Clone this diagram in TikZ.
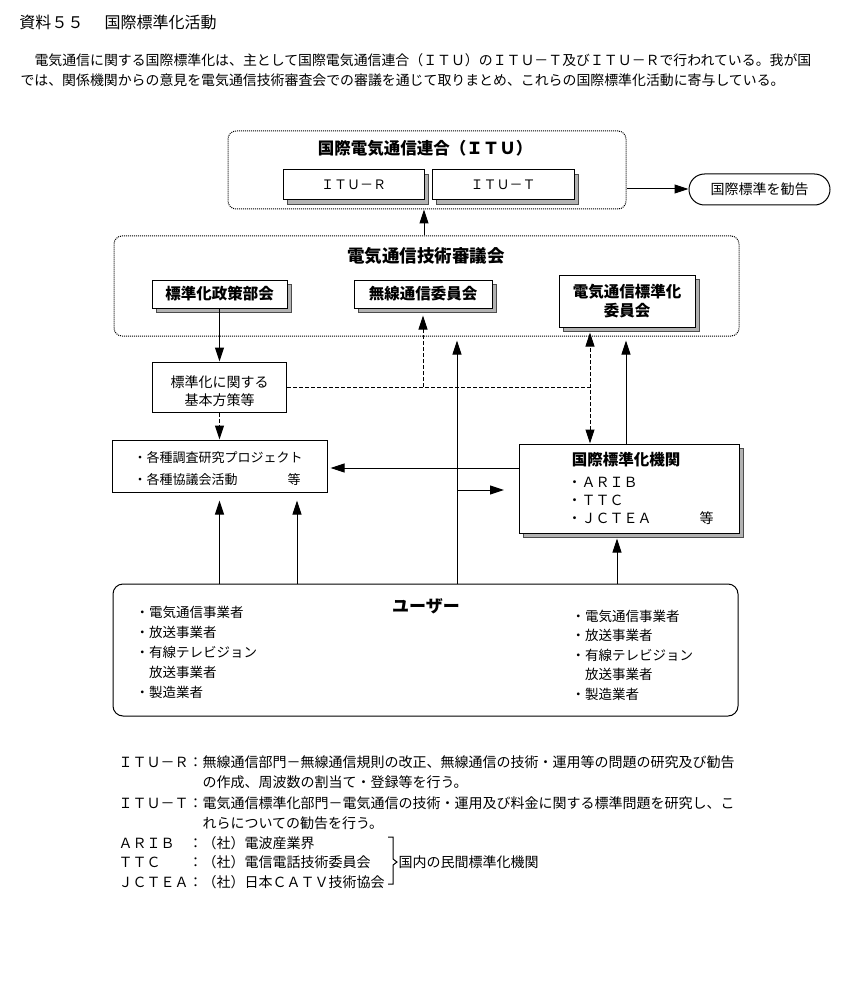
\documentclass[tikz,border=0pt]{standalone}
\usepackage{fontspec}
\setmainfont{Noto Sans CJK JP}
\usetikzlibrary{arrows.meta,shadows}
\newcommand\myfs[1]{\fontsize{#1}{#1}\selectfont}
\begin{document}
\begin{tikzpicture}[x=1pt,y=-1pt, line width=1pt,
 box/.style={draw, fill=white, inner sep=0pt, line width=1pt},
 shbox/.style={box, drop shadow={shadow xshift=4pt, shadow yshift=-4pt, fill=black!30, draw=black!70, line width=0.6pt, opacity=1}},
 cont/.style={draw, densely dotted, rounded corners=8pt, inner sep=0pt},
 txt/.style={inner sep=0pt, anchor=west},
 ctxt/.style={inner sep=0pt},
 arr/.style={-{Triangle[length=14pt,width=9pt]}},
 arrb/.style={{Triangle[length=14pt,width=9pt]}-{Triangle[length=14pt,width=9pt]}},
 dsh/.style={dash pattern=on 4pt off 2pt}]
\path[use as bounding box, fill=white] (0,0) rectangle (850,1000);

% header
\node[txt, font=\myfs{16}] (t1) at (19,22) {資料５５};
\node[txt, font=\myfs{16}] (t2) at (104,22) {国際標準化活動};
\node[txt, font=\myfs{13.9}] (p1) at (34,60) {電気通信に関する国際標準化は、主として国際電気通信連合（ＩＴＵ）のＩＴＵ－Ｔ及びＩＴＵ－Ｒで行われている。我が国};
\node[txt, font=\myfs{13.9}] (p2) at (20,80) {では、関係機関からの意見を電気通信技術審査会での審議を通じて取りまとめ、これらの国際標準化活動に寄与している。};

% ITU
\node[cont, minimum width=398pt, minimum height=78pt] (itu) at (427,170) {};
\node[ctxt, font=\bfseries\myfs{16.5}] (itut) at (425,148) {国際電気通信連合（ＩＴＵ）};
\node[shbox, minimum width=141pt, minimum height=30pt, font=\myfs{13}] (itur) at (353.5,185) {ＩＴＵ－Ｒ};
\node[shbox, minimum width=142pt, minimum height=30pt, font=\myfs{13}] (itutt) at (503,185) {ＩＴＵ－Ｔ};
\node[box, rounded corners=15.5pt, minimum width=141pt, minimum height=31pt, font=\myfs{14}] (rec) at (759.5,189.5) {国際標準を勧告};

% council
\node[cont, minimum width=625pt, minimum height=100pt] (council) at (426.5,286) {};
\node[ctxt, font=\bfseries\myfs{17.5}] (councilt) at (426,256) {電気通信技術審議会};
\node[shbox, minimum width=135pt, minimum height=28pt, font=\bfseries\myfs{15.5}] (seisaku) at (219.5,294) {標準化政策部会};
\node[shbox, minimum width=138pt, minimum height=28pt, font=\bfseries\myfs{15.5}] (musen) at (423,294) {無線通信委員会};
\node[shbox, minimum width=136pt, minimum height=52pt, align=center, font=\bfseries\fontsize{15.5}{19}\selectfont] (denki) at (627,301) {電気通信標準化\\委員会};

% middle
\node[box, minimum width=134pt, minimum height=50pt] (kihon) at (219.5,387) {};
\node[ctxt, align=center, font=\fontsize{14}{18}\selectfont] (kihont) at (219.5,391) {標準化に関する\\基本方策等};

\node[box, minimum width=215pt, minimum height=52pt] (kakushu) at (219.5,466) {};
\node[txt, font=\myfs{13}] (k1) at (133,458) {・各種調査研究プロジェクト};
\node[txt, font=\myfs{13}] (k2) at (133,480) {・各種協議会活動};
\node[txt, font=\myfs{13}] (k3) at (287,480) {等};

\node[shbox, minimum width=220pt, minimum height=89pt] (kokusai) at (629,488.5) {};
\node[ctxt, font=\bfseries\myfs{15.5}] (kt) at (626,460) {国際標準化機関};
\node[txt, font=\myfs{14}] (ka) at (567,482) {・ＡＲＩＢ};
\node[txt, font=\myfs{14}] (kb) at (567,500) {・ＴＴＣ};
\node[txt, font=\myfs{14}] (kc) at (567,518) {・ＪＣＴＥＡ};
\node[txt, font=\myfs{14}] (kd) at (699,518) {等};

% users
\node[draw, rounded corners=10pt, minimum width=625pt, minimum height=132pt, inner sep=0pt] (user) at (425.5,650) {};
\node[ctxt, font=\bfseries\myfs{17}] (ut) at (426,606) {ユーザー};
\node[txt, font=\myfs{13.5}] (ul1) at (135,612) {・電気通信事業者};
\node[txt, font=\myfs{13.5}] (ul2) at (135,632) {・放送事業者};
\node[txt, font=\myfs{13.5}] (ul3) at (135,652) {・有線テレビジョン};
\node[txt, font=\myfs{13.5}] (ul4) at (135,672) {　放送事業者};
\node[txt, font=\myfs{13.5}] (ul5) at (135,692) {・製造業者};
\node[txt, font=\myfs{13.5}] (ur1) at (571,616) {・電気通信事業者};
\node[txt, font=\myfs{13.5}] (ur2) at (571,635) {・放送事業者};
\node[txt, font=\myfs{13.5}] (ur3) at (571,655) {・有線テレビジョン};
\node[txt, font=\myfs{13.5}] (ur4) at (571,674) {　放送事業者};
\node[txt, font=\myfs{13.5}] (ur5) at (571,694) {・製造業者};

% column coordinates
\coordinate (c219) at (219.5,0);
\coordinate (c297) at (297,0);
\coordinate (c424) at (424,0);
\coordinate (c457) at (457,0);
\coordinate (c590) at (590,0);
\coordinate (c617) at (617,0);
\coordinate (c626) at (626,0);
\coordinate (r189) at (0,189);
\coordinate (r468) at (0,468);
\coordinate (e490) at (504,490);

% connectors
\draw[arr] (itu.east |- r189) -- (rec.west |- r189);
\draw[arr] (council.north -| c424) -- (itu.south -| c424);
\draw[arr] (seisaku.south) -- (kihon.north);
\draw[arr, dsh] (kihon.south) -- (kakushu.north);
\draw[dsh] (kihon.east) -- (kihon.east -| c590);
\draw[arr, dsh, shorten >=7pt] (musen.south |- kihon.east) -- (musen.south);
\draw[arrb, dsh, shorten >=5pt] (kokusai.north -| c590) -- (denki.south -| c590);
\draw[arr, shorten >=4pt] (user.north -| c457) -- (council.south -| c457);
\draw[arr, shorten >=4pt] (kokusai.north -| c626) -- (council.south -| c626);
\draw[arr, shorten >=3pt] (kokusai.west |- r468) -- (kakushu.east |- r468);
\draw[arr] (c457 |- e490) -- (e490);
\draw[arr, shorten >=8pt] (user.north -| c219) -- (kakushu.south -| c219);
\draw[arr, shorten >=8pt] (user.north -| c297) -- (kakushu.south -| c297);
\draw[arr, shorten >=5pt] (user.north -| c617) -- (kokusai.south -| c617);

% legend
\node[txt, font=\myfs{14}] (l1) at (118,762) {ＩＴＵ－Ｒ：無線通信部門－無線通信規則の改正、無線通信の技術・運用等の問題の研究及び勧告};
\node[txt, font=\myfs{14}] (l2) at (202,782) {の作成、周波数の割当て・登録等を行う。};
\node[txt, font=\myfs{14}] (l3) at (118,803) {ＩＴＵ－Ｔ：電気通信標準化部門－電気通信の技術・運用及び料金に関する標準問題を研究し、こ};
\node[txt, font=\myfs{14}] (l4) at (202,823) {れらについての勧告を行う。};
\node[txt, font=\myfs{14}] (l5) at (118,843) {ＡＲＩＢ　：（社）電波産業界};
\node[txt, font=\myfs{14}] (l6) at (118,862) {ＴＴＣ　　：（社）電信電話技術委員会};
\node[txt, font=\myfs{14}] (l7) at (118,882) {ＪＣＴＥＡ：（社）日本ＣＡＴＶ技術協会};
\draw[line width=1pt] (388,837) -- (393,837) -- (393,859) -- (397,862) -- (393,865) -- (393,884) -- (388,884);
\node[txt, font=\myfs{14}] (l8) at (398,862) {国内の民間標準化機関};
\end{tikzpicture}
\end{document}
